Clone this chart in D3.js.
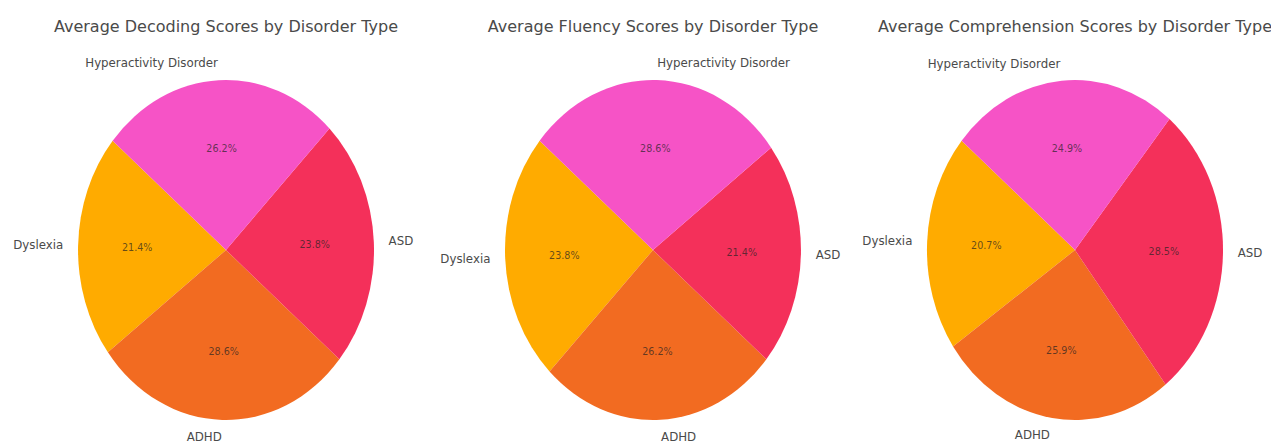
<!DOCTYPE html>
<html>
<head>
<meta charset="utf-8">
<script src="https://cdn.jsdelivr.net/npm/d3@7"></script>
<style>
  html, body { margin: 0; padding: 0; background: #ffffff; }
  svg { display: block; }
  text { font-family: "DejaVu Sans", sans-serif; }
</style>
</head>
<body>
<svg id="chart" width="1271" height="444"></svg>
<script>
// Disorder categories, in drawing order (counter-clockwise from the start angle)
const categories = ["Dyslexia", "ADHD", "ASD", "Hyperactivity Disorder"];
const sliceColors = ["#FFAB00", "#F26B21", "#F4305A", "#F653C6"];

// Share of the average score per disorder, in percent
const decodingValues      = [21.4, 28.6, 23.8, 26.2];
const fluencyValues       = [23.8, 26.2, 21.4, 28.6];
const comprehensionValues = [20.7, 25.9, 28.5, 24.9];

const chartTitles = [
  "Average Decoding Scores by Disorder Type",
  "Average Fluency Scores by Disorder Type",
  "Average Comprehension Scores by Disorder Type"
];
const seriesList = [decodingValues, fluencyValues, comprehensionValues];

const svg = d3.select("#chart");

const centersX = [226, 653, 1075];
const centerY = 250;
const rx = 148, ry = 170;      // pies are drawn slightly taller than wide
const startDeg = 140;          // first slice starts 140° counter-clockwise from 3 o'clock
const labelDistance = 1.1;
const pctDistance = 0.6;

const color = d3.scaleOrdinal().domain(categories).range(sliceColors);

// d3 angles: 0 at 12 o'clock, clockwise. Convert the start and run counter-clockwise.
const a0 = (90 - startDeg) * Math.PI / 180;
const pie = d3.pie()
  .sort(null)
  .value(d => d.value)
  .startAngle(a0)
  .endAngle(a0 - 2 * Math.PI);

const arc = d3.arc().innerRadius(0).outerRadius(1);

seriesList.forEach((values, i) => {
  const cx = centersX[i];
  const data = categories.map((c, j) => ({ category: c, value: values[j] }));
  const arcs = pie(data);
  const total = d3.sum(values);

  const g = svg.append("g");

  // title
  g.append("text")
    .attr("x", cx)
    .attr("y", 32)
    .attr("text-anchor", "middle")
    .attr("font-size", 16)
    .attr("fill", "#4a4a4a")
    .text(chartTitles[i]);

  // wedges: unit-radius arcs stretched into the ellipse
  g.append("g")
    .attr("transform", `translate(${cx},${centerY}) scale(${rx},${ry})`)
    .selectAll("path")
    .data(arcs)
    .join("path")
    .attr("d", arc)
    .attr("fill", d => color(d.data.category));

  const pos = (d, k) => {
    const mid = (d.startAngle + d.endAngle) / 2;
    return [cx + Math.sin(mid) * rx * k, centerY - Math.cos(mid) * ry * k, Math.sin(mid)];
  };

  // category labels outside the pie
  g.selectAll("text.cat")
    .data(arcs)
    .join("text")
    .attr("class", "cat")
    .each(function(d) {
      const [x, y, s] = pos(d, labelDistance);
      d3.select(this)
        .attr("x", x)
        .attr("y", y)
        .attr("text-anchor", s >= 0 ? "start" : "end");
    })
    .attr("dominant-baseline", "central")
    .attr("font-size", 11.8)
    .attr("fill", "#4a4a4a")
    .text(d => d.data.category);

  // percentage labels inside the wedges
  g.selectAll("text.pct")
    .data(arcs)
    .join("text")
    .attr("class", "pct")
    .each(function(d) {
      const [x, y] = pos(d, pctDistance);
      d3.select(this).attr("x", x).attr("y", y);
    })
    .attr("text-anchor", "middle")
    .attr("dominant-baseline", "central")
    .attr("font-size", 9.6)
    .attr("fill", "#222")
    .attr("fill-opacity", 0.7)
    .text(d => (d.value / total * 100).toFixed(1) + "%");
});
</script>
</body>
</html>
